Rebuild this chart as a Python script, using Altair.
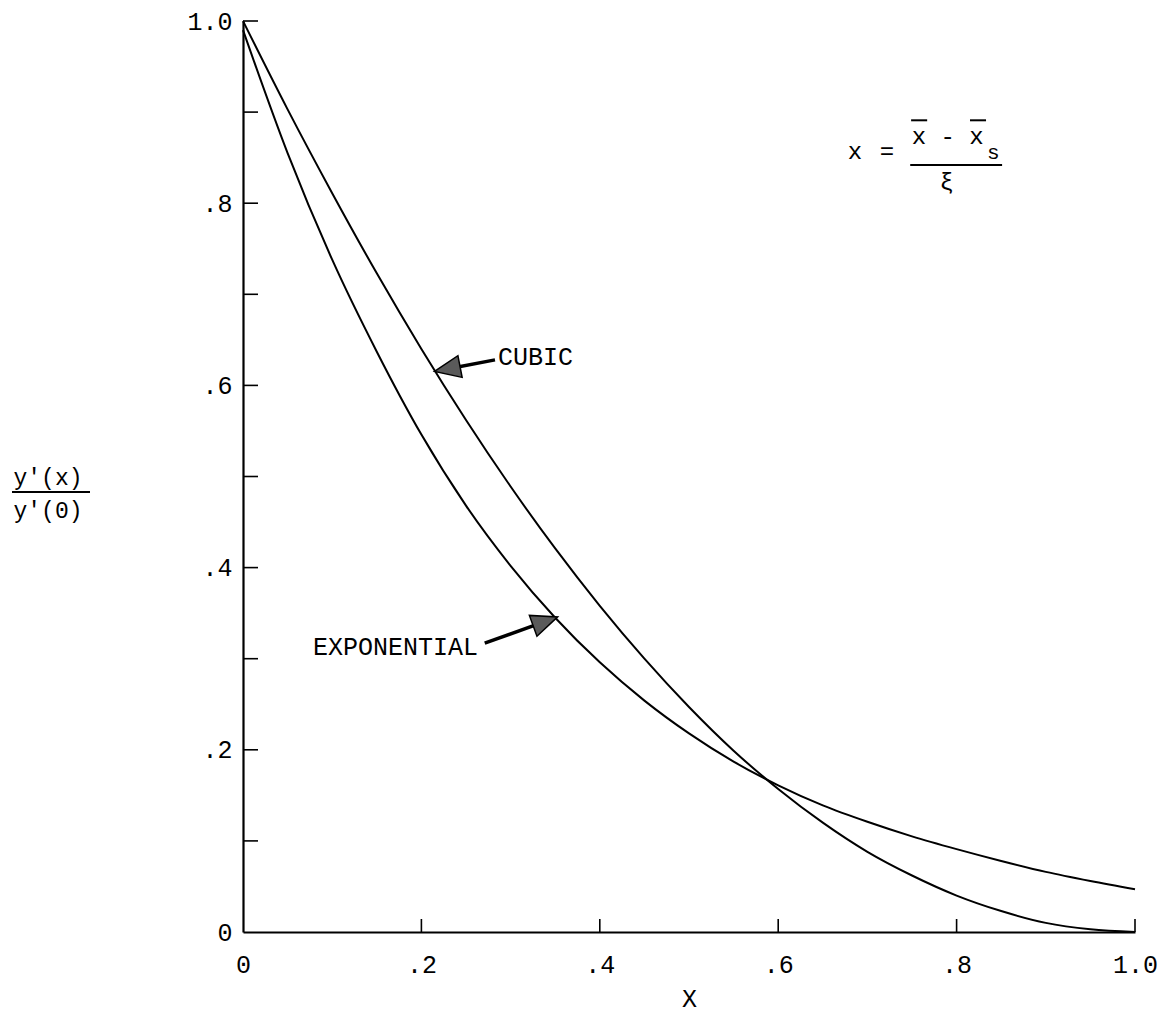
import altair as alt
import pandas as pd

# Normalised slope profiles y'(x)/y'(0) for the two fits
x_vals = [0.0, 0.05, 0.10, 0.15, 0.20, 0.25, 0.30, 0.35, 0.40, 0.45, 0.50,
          0.55, 0.60, 0.65, 0.70, 0.75, 0.80, 0.85, 0.90, 0.95, 1.00]
cubic_vals = [1.000, 0.903, 0.811, 0.723, 0.640, 0.562, 0.489, 0.421, 0.358, 0.300, 0.247,
              0.199, 0.157, 0.120, 0.088, 0.062, 0.040, 0.023, 0.010, 0.003, 0.000]
exponential_vals = [0.990, 0.855, 0.738, 0.637, 0.546, 0.468, 0.402, 0.345, 0.296, 0.254, 0.218,
                    0.187, 0.161, 0.139, 0.121, 0.105, 0.091, 0.078, 0.066, 0.056, 0.047]

# Axis tick values and their typed labels
x_tick_values = [0.0, 0.2, 0.4, 0.6, 0.8, 1.0]
x_tick_labels = ["0", ".2", ".4", ".6", ".8", "1.0"]
y_tick_values = [0.0, 0.2, 0.4, 0.6, 0.8, 1.0]
y_tick_labels = ["0\u00a0", ".2", ".4", ".6", ".8", "1.0"]
x_mark_ticks = [0.2, 0.4, 0.6, 0.8, 1.0]
y_mark_ticks = [0.1, 0.2, 0.3, 0.4, 0.5, 0.6, 0.7, 0.8, 0.9, 1.0]

W, H = 892, 911
FONT = "Liberation Mono"
INK = "black"


def label_expr(values, labels):
    expr = "''"
    for v, lab in reversed(list(zip(values, labels))):
        expr = f"abs(datum.value - {v}) < 1e-6 ? '{lab}' : ({expr})"
    return expr


xscale = alt.Scale(domain=[0, 1], nice=False, zero=False)
yscale = alt.Scale(domain=[0, 1], nice=False, zero=False)

# One axis definition per direction, shared by every layer so they merge cleanly
xaxis = alt.Axis(values=x_tick_values, labelExpr=label_expr(x_tick_values, x_tick_labels),
                 title="X", titleY=74, titleBaseline="alphabetic",
                 labelPadding=20, labelAlign="center")
yaxis = alt.Axis(values=y_tick_values, labelExpr=label_expr(y_tick_values, y_tick_labels),
                 title=None, labelPadding=11, labelBaseline="middle")


def X(field):
    return alt.X(field, scale=xscale, axis=xaxis)


def Y(field):
    return alt.Y(field, scale=yscale, axis=yaxis)


curves = pd.DataFrame({
    "x": x_vals * 2,
    "y": cubic_vals + exponential_vals,
    "curve": ["CUBIC"] * len(x_vals) + ["EXPONENTIAL"] * len(x_vals),
})

lines = alt.Chart(curves).mark_line(color=INK, strokeWidth=2, interpolate="monotone").encode(
    x=X("x:Q"), y=Y("y:Q"), detail="curve:N",
)

# Inward tick marks along both axes
yticks = alt.Chart(pd.DataFrame({"v": y_mark_ticks})).mark_rule(color=INK, strokeWidth=1.6).encode(
    y=Y("v:Q"), x=alt.value(0), x2=alt.value(15),
)
xticks = alt.Chart(pd.DataFrame({"v": x_mark_ticks})).mark_rule(color=INK, strokeWidth=1.6).encode(
    x=X("v:Q"), y=alt.value(H), y2=alt.value(H - 13),
)

# Curve labels with arrows
labels = pd.DataFrame({
    "x": [0.286, 0.0785],
    "y": [0.622, 0.304],
    "text": ["CUBIC", "EXPONENTIAL"],
})
label_text = alt.Chart(labels).mark_text(
    font=FONT, fontSize=25, align="left", baseline="alphabetic", color=INK
).encode(x=X("x:Q"), y=Y("y:Q"), text="text:N")

arrows = pd.DataFrame({
    "x": [0.2825, 0.271],
    "y": [0.628, 0.317],
    "hx": [0.229, 0.339],
    "hy": [0.618, 0.341],
    "angle": [259, 70],
})
shafts = alt.Chart(arrows).mark_rule(color=INK, strokeWidth=3.5).encode(
    x=X("x:Q"), y=Y("y:Q"), x2="hx:Q", y2="hy:Q",
)
heads = alt.Chart(arrows).mark_point(
    shape="M0,-1L0.85,1L-0.85,1Z", size=676, filled=True,
    fill="#5a5a5a", stroke=INK, strokeWidth=1.5, opacity=1,
).encode(
    x=X("hx:Q"), y=Y("hy:Q"),
    angle=alt.Angle("angle:Q", scale=None),
)

# Definition of the abscissa: x = (x̄ - x̄s) / ξ
formula_main = pd.DataFrame({
    "x": [0.686, 0.722, 0.790, 0.789],
    "y": [0.856, 0.856, 0.873, 0.822],
    "text": ["x", "=", "x - x", "ξ"],
})
formula_text = alt.Chart(formula_main).mark_text(
    font=FONT, fontSize=24, align="center", baseline="middle", color=INK
).encode(x=X("x:Q"), y=Y("y:Q"), text="text:N")
formula_sub = alt.Chart(pd.DataFrame({"x": [0.841], "y": [0.855], "text": ["s"]})).mark_text(
    font=FONT, fontSize=21, align="center", baseline="middle", color=INK
).encode(x=X("x:Q"), y=Y("y:Q"), text="text:N")
formula_bars = pd.DataFrame({
    "x": [0.749, 0.815, 0.748],
    "x2": [0.767, 0.833, 0.851],
    "y": [0.891, 0.891, 0.842],
})
formula_rules = alt.Chart(formula_bars).mark_rule(color=INK, strokeWidth=2).encode(
    x=X("x:Q"), x2="x2:Q", y=Y("y:Q"),
)

# Vertical-axis title written as a fraction
one = pd.DataFrame({"k": [0]})
y_num = alt.Chart(one).mark_text(
    text="y'(x)", font=FONT, fontSize=23, align="center", baseline="middle", color=INK
).encode(x=alt.value(-195), y=alt.value(457))
y_den = alt.Chart(one).mark_text(
    text="y'(0)", font=FONT, fontSize=23, align="center", baseline="middle", color=INK
).encode(x=alt.value(-195), y=alt.value(490))
y_bar = alt.Chart(one).mark_rule(color=INK, strokeWidth=2).encode(
    x=alt.value(-231), x2=alt.value(-153), y=alt.value(471)
)

chart = alt.layer(
    lines, yticks, xticks, shafts, heads, label_text,
    formula_text, formula_sub, formula_rules, y_num, y_den, y_bar,
).properties(
    width=W, height=H,
    padding={"left": 243, "top": 21, "right": 25, "bottom": 83},
    autosize=alt.AutoSizeParams(type="none"),
    background="white",
).configure_view(
    stroke=None
).configure_axis(
    grid=False, ticks=False, tickSize=0,
    domainColor=INK, domainWidth=2.2,
    labelFont=FONT, labelFontSize=25, labelColor=INK,
    titleFont=FONT, titleFontSize=25, titleColor=INK, titleFontWeight="normal",
)

chart.save("out.html", embed_options={"renderer": "svg", "actions": False})
